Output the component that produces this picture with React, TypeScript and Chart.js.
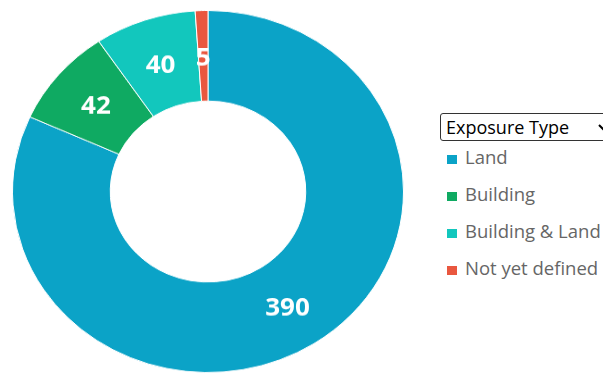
import React, { useEffect, useRef } from "react";
import { Chart, registerables } from "chart.js";

Chart.register(...registerables);

const categories = ["Land", "Building", "Building & Land", "Not yet defined"];
const counts = [390, 42, 40, 5];
const colors = ["#0BA3C7", "#0FAA62", "#12C7BD", "#E9573F"];
const selectOptions = ["Exposure Type"];

const valueLabels = {
  id: "valueLabels",
  afterDatasetsDraw(chart: any) {
    const ctx = chart.ctx;
    const meta = chart.getDatasetMeta(0);
    const data = chart.data.datasets[0].data;
    ctx.save();
    ctx.fillStyle = "#ffffff";
    ctx.font = "bold 26px 'Open Sans'";
    ctx.textAlign = "center";
    ctx.textBaseline = "middle";
    meta.data.forEach((arc: any, i: number) => {
      const p = arc.getCenterPoint();
      ctx.fillText(String(data[i]), p.x, p.y + 3);
    });
    ctx.restore();
  },
};

export default function App() {
  const ref = useRef<HTMLCanvasElement | null>(null);
  useEffect(() => {
    if (!ref.current) return;
    const chart = new Chart(ref.current, {
      type: "doughnut",
      data: {
        labels: categories,
        datasets: [
          {
            data: counts,
            backgroundColor: colors,
            borderColor: "#ffffff",
            borderWidth: 1,
          },
        ],
      },
      options: {
        animation: false,
        responsive: false,
        cutout: "50%",
        layout: { padding: 0 },
        plugins: {
          legend: { display: false },
          tooltip: { enabled: false },
        },
      },
      plugins: [valueLabels],
    });
    return () => chart.destroy();
  }, []);

  return (
    <div
      style={{
        position: "fixed",
        left: 0,
        top: 0,
        width: 603,
        height: 374,
        overflow: "hidden",
        background: "#fff",
        fontFamily: "'Open Sans', sans-serif",
      }}
    >
      <div
        style={{
          position: "absolute",
          left: 12,
          top: 10,
          width: 392,
          height: 392,
          transform: "scaleY(0.926)",
          transformOrigin: "0 0",
        }}
      >
        <canvas ref={ref} width={392} height={392} />
      </div>
      <select
        style={{
          position: "absolute",
          left: 440,
          top: 113,
          width: 172,
          height: 28,
          fontFamily: "'Open Sans', sans-serif",
          fontSize: 18,
          color: "#000",
          border: "1px solid #333",
          borderRadius: 3,
          padding: "0 1px",
          background: "#fff",
        }}
        defaultValue={selectOptions[0]}
      >
        {selectOptions.map((o) => (
          <option key={o}>{o}</option>
        ))}
      </select>
      <div style={{ position: "absolute", left: 447, top: 138 }}>
        {categories.map((c, i) => (
          <div
            key={c}
            style={{
              height: 37,
              fontSize: 18.5,
              color: "#666666",
              lineHeight: "37px",
              whiteSpace: "nowrap",
            }}
          >
            <span
              style={{
                display: "inline-block",
                width: 10,
                height: 9,
                background: colors[i],
                marginRight: 8,
                verticalAlign: "baseline",
              }}
            />
            {c}
          </div>
        ))}
      </div>
    </div>
  );
}
